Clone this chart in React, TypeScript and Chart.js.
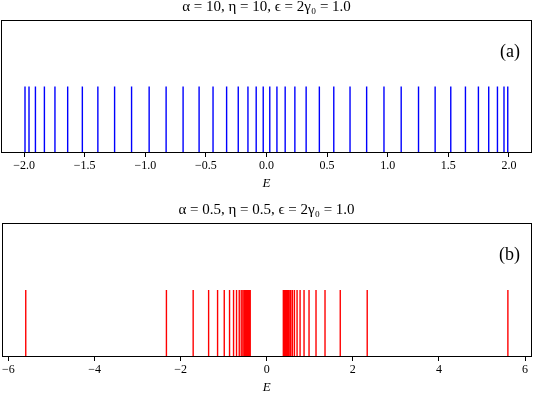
import React, { useEffect, useRef } from "react";
import { Chart, registerables } from "chart.js";

Chart.register(...registerables);

// ---- data ----
const energiesA = [
  -1.992, -1.959, -1.906, -1.832, -1.745, -1.64, -1.519, -1.391, -1.253, -1.113,
  -0.968, -0.828, -0.688, -0.556, -0.441, -0.329, -0.233, -0.153, -0.085, -0.027,
  0.027, 0.086, 0.154, 0.234, 0.327, 0.436, 0.555, 0.689, 0.826, 0.969,
  1.111, 1.254, 1.391, 1.52, 1.641, 1.748, 1.833, 1.905, 1.959, 1.99,
];
const energiesB = [
  -5.597, -2.33, -1.709, -1.35, -1.142, -0.987, -0.864, -0.771, -0.702, -0.639,
  -0.593, -0.555, -0.52, -0.49, -0.465, -0.443, -0.424, -0.408, -0.395, -0.384,
  0.385, 0.395, 0.408, 0.424, 0.443, 0.465, 0.49, 0.52, 0.555, 0.595,
  0.642, 0.704, 0.774, 0.866, 0.982, 1.144, 1.353, 1.707, 2.333, 5.6,
];
const ticksA = [-2, -1.5, -1, -0.5, 0, 0.5, 1, 1.5, 2];
const ticksB = [-6, -4, -2, 0, 2, 4, 6];
const rangeA = [-2.19, 2.19];
const rangeB = [-6.16, 6.16];
const titleA = "α = 10, η = 10, ϵ = 2γ₀ = 1.0";
const titleB = "α = 0.5, η = 0.5, ϵ = 2γ₀ = 1.0";
const panelA = "(a)";
const panelB = "(b)";
const xLabel = "E";
const levelTop = 0.5; // each level drawn from y = 0 to levelTop on a 0..1 axis

const FONT = "'Liberation Serif', 'DejaVu Serif', serif";

const fmtMinus = (s: string) => s.replace("-", "\u2212");

const framePlugin = {
  id: "frameLabel",
  afterDraw(chart: any, _args: any, opts: any) {
    const { ctx, chartArea } = chart;
    const l = Math.round(chartArea.left) + 0.5;
    const t = Math.round(chartArea.top) + 0.5;
    const r = Math.round(chartArea.right) - 0.5;
    const b = Math.round(chartArea.bottom) - 0.5;
    ctx.save();
    ctx.strokeStyle = "#000";
    ctx.lineWidth = 1;
    ctx.strokeRect(l, t, r - l, b - t);
    ctx.fillStyle = "#000";
    ctx.font = `18px ${FONT}`;
    ctx.textAlign = "right";
    ctx.textBaseline = "middle";
    ctx.fillText(opts.text || "", chartArea.right - 12, chartArea.top + 32);
    ctx.restore();
  },
};

function Panel(props: {
  energies: number[];
  ticks: number[];
  range: number[];
  title: string;
  panel: string;
  color: string;
  decimals: number;
  top: number;
  height: number;
}) {
  const ref = useRef<HTMLCanvasElement | null>(null);
  useEffect(() => {
    if (!ref.current) return;
    const data: any[] = [];
    props.energies.forEach((e) => {
      data.push({ x: e, y: 0 });
      data.push({ x: e, y: levelTop });
      data.push({ x: e, y: null });
    });
    const chart = new Chart(ref.current, {
      type: "scatter",
      data: {
        datasets: [
          {
            data,
            showLine: true,
            spanGaps: false,
            borderColor: props.color,
            borderWidth: 1.4,
            pointRadius: 0,
            pointHoverRadius: 0,
          },
        ],
      },
      plugins: [framePlugin],
      options: {
        animation: false,
        responsive: false,
        maintainAspectRatio: false,
        layout: { padding: { left: 1, right: 1, top: 0, bottom: 0 } },
        plugins: {
          legend: { display: false },
          tooltip: { enabled: false },
          title: {
            display: true,
            text: props.title,
            color: "#000",
            font: { family: FONT, size: 15, weight: "normal" },
            padding: { top: 0, bottom: 4 },
          },
          frameLabel: { text: props.panel },
        } as any,
        scales: {
          x: {
            type: "linear",
            min: props.range[0],
            max: props.range[1],
            afterBuildTicks: (s: any) => {
              s.ticks = props.ticks.map((v) => ({ value: v }));
            },
            ticks: {
              color: "#000",
              font: { family: FONT, size: 12 },
              padding: 2,
              maxRotation: 0,
              autoSkip: false,
              callback: (v: any) => fmtMinus(Number(v).toFixed(props.decimals)),
            },
            grid: {
              drawOnChartArea: false,
              drawTicks: true,
              tickLength: 4,
              color: "#000",
            },
            border: { display: false },
            title: {
              display: true,
              text: xLabel,
              color: "#000",
              font: { family: FONT, size: 13, style: "italic" },
              padding: { top: 0, bottom: 0 },
            },
          },
          y: {
            type: "linear",
            min: 0,
            max: 1,
            display: false,
          },
        },
      } as any,
    });
    return () => chart.destroy();
  }, []);
  return (
    <canvas
      ref={ref}
      width={533}
      height={props.height}
      style={{ position: "absolute", left: 0, top: props.top, display: "block" }}
    />
  );
}

export default function App() {
  return (
    <div
      style={{
        position: "fixed",
        left: 0,
        top: 0,
        width: 533,
        height: 395,
        background: "#fff",
        overflow: "hidden",
      }}
    >
      <Panel
        energies={energiesA}
        ticks={ticksA}
        range={rangeA}
        title={titleA}
        panel={panelA}
        color="#0000ff"
        decimals={1}
        top={-2}
        height={193}
      />
      <Panel
        energies={energiesB}
        ticks={ticksB}
        range={rangeB}
        title={titleB}
        panel={panelB}
        color="#ff0000"
        decimals={0}
        top={201}
        height={194}
      />
    </div>
  );
}
